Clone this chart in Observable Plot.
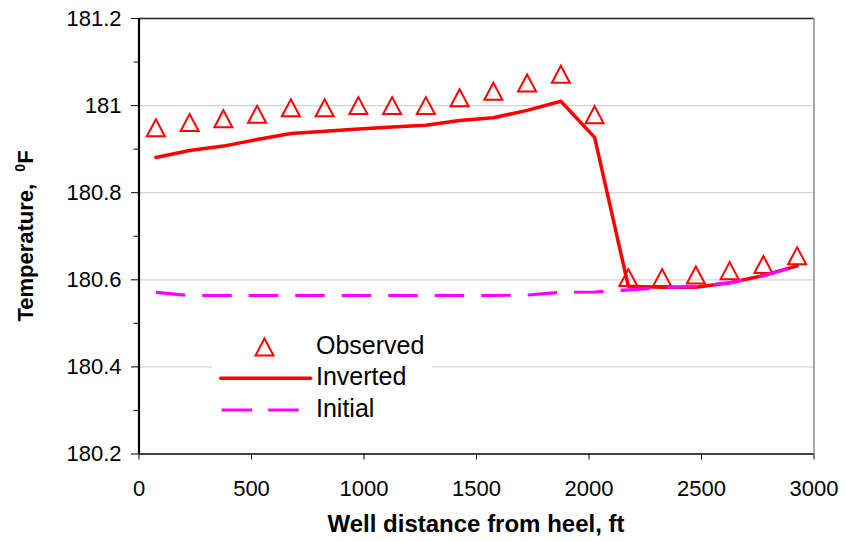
<!DOCTYPE html>
<html>
<head>
<meta charset="utf-8">
<script src="https://cdn.jsdelivr.net/npm/d3@7"></script>
<script src="https://cdn.jsdelivr.net/npm/@observablehq/plot@0.6"></script>
<style>
  html, body { margin: 0; padding: 0; background: white; }
  #chart { width: 845px; height: 541px; }
</style>
</head>
<body>
<div id="chart"></div>
<script>
// ---- data ----
const distance = [75, 225, 375, 525, 675, 825, 975, 1125, 1275, 1425, 1575, 1725, 1875, 2025, 2175, 2325, 2475, 2625, 2775, 2925];
const observed = [180.949, 180.961, 180.970, 180.980, 180.995, 180.995, 181.000, 181.000, 181.000, 181.018, 181.033, 181.052, 181.072, 180.979, 180.605, 180.605, 180.611, 180.621, 180.635, 180.655];
const inverted = [180.881, 180.897, 180.907, 180.922, 180.936, 180.941, 180.946, 180.951, 180.955, 180.966, 180.972, 180.989, 181.010, 180.927, 180.585, 180.583, 180.583, 180.593, 180.610, 180.632];
const initial  = [180.571, 180.564, 180.564, 180.564, 180.564, 180.564, 180.564, 180.564, 180.564, 180.564, 180.564, 180.565, 180.571, 180.572, 180.577, 180.582, 180.585, 180.593, 180.609, 180.632];
const xTicks = [0, 500, 1000, 1500, 2000, 2500, 3000];
const yTicks = [180.2, 180.4, 180.6, 180.8, 181, 181.2];
const yGrid = [180.4, 180.6, 180.8, 181];
const yMinorTicks = [180.3, 180.5, 180.7, 180.9, 181.1];
const xDomain = [0, 3000];
const yDomain = [180.2, 181.2];
const seriesNames = ["Observed", "Inverted", "Initial"];
const xTitle = "Well distance from heel, ft";
const yTitle = "Temperature,  ";

const obsData = distance.map((x, i) => ({x, y: observed[i]}));
const invData = distance.map((x, i) => ({x, y: inverted[i]}));
const iniData = distance.map((x, i) => ({x, y: initial[i]}));

// Excel-like triangle marker, centred on its bounding box
const triW = 18, triH = 17;
const triangleSymbol = {
  draw(ctx) {
    ctx.moveTo(0, -triH / 2);
    ctx.lineTo(triW / 2, triH / 2);
    ctx.lineTo(-triW / 2, triH / 2);
    ctx.closePath();
  }
};

const RED = "#ff0000", MAGENTA = "#ff00ff";

const plot = Plot.plot({
  width: 845,
  height: 541,
  marginLeft: 138.5,
  marginRight: 31.5,
  marginTop: 18,
  marginBottom: 87.5,
  x: {domain: xDomain},
  y: {domain: yDomain},
  style: {fontFamily: "'Liberation Sans', Arial, Helvetica, sans-serif", fontSize: "22px", background: "white", color: "black", overflow: "visible"},
  marks: [
    Plot.gridY(yGrid, {stroke: "#d4d4d4", strokeOpacity: 1, strokeWidth: 1.2}),
    Plot.ruleY([yDomain[1]], {stroke: "#222", strokeWidth: 1.3}),
    Plot.ruleX([xDomain[1]], {stroke: "#8a8a8a", strokeWidth: 1.5}),
    Plot.dot(obsData, {x: "x", y: "y", symbol: triangleSymbol, r: 6, stroke: RED, strokeWidth: 2, fill: "none"}),
    Plot.line(invData, {x: "x", y: "y", stroke: RED, strokeWidth: 3.5}),
    Plot.line(iniData, {x: "x", y: "y", stroke: MAGENTA, strokeWidth: 3.2, strokeDasharray: "29.5,17", strokeLinecap: "butt"}),
    Plot.axisY(yTicks, {tickSize: 7.5, tickPadding: 10, label: null, stroke: "black", tickFormat: d => String(+d.toFixed(1)), fontSize: 22}),
    Plot.axisY(yMinorTicks, {tickSize: 5, tickFormat: () => "", label: null, stroke: "black"}),
    Plot.axisX(xTicks, {tickSize: 6, tickPadding: 20, label: null, stroke: "black", tickFormat: d => String(d), fontSize: 22}),
    Plot.ruleY([yDomain[0]], {stroke: "black", strokeWidth: 1.6}),
    Plot.ruleX([xDomain[0]], {stroke: "black", strokeWidth: 2.2})
  ]
});

document.getElementById("chart").appendChild(plot);

// ---- titles and legend ----
const svg = d3.select(plot);
const font = "'Liberation Sans', Arial, Helvetica, sans-serif";

svg.append("text")
  .attr("x", 476).attr("y", 532)
  .attr("text-anchor", "middle")
  .attr("font-family", font).attr("font-weight", "bold").attr("font-size", 24)
  .attr("fill", "black")
  .text(xTitle);

const yt = svg.append("text")
  .attr("transform", "translate(33,236) rotate(-90)")
  .attr("text-anchor", "middle")
  .attr("font-family", font).attr("font-weight", "bold").attr("font-size", 22)
  .attr("fill", "black")
  .style("white-space", "pre");
yt.append("tspan").text(yTitle);
yt.append("tspan").attr("font-size", 14).attr("dy", -8).text("0");
yt.append("tspan").attr("dy", 8).text("F");

const lg = svg.append("g");
lg.append("rect").attr("x", 212).attr("y", 327).attr("width", 220).attr("height", 98).attr("fill", "white");
lg.append("path")
  .attr("d", `M${264.5},${347 - triH / 2}L${264.5 + triW / 2},${347 + triH / 2}L${264.5 - triW / 2},${347 + triH / 2}Z`)
  .attr("fill", "none").attr("stroke", RED).attr("stroke-width", 2);
lg.append("line").attr("x1", 220.7).attr("x2", 310.7).attr("y1", 378.3).attr("y2", 378.3)
  .attr("stroke", RED).attr("stroke-width", 3.5).attr("stroke-linecap", "round");
lg.append("line").attr("x1", 221.7).attr("x2", 299).attr("y1", 410).attr("y2", 410)
  .attr("stroke", MAGENTA).attr("stroke-width", 3.2).attr("stroke-dasharray", "30.5,16");
const baselines = [353.5, 385, 416.5];
seriesNames.forEach((name, i) => {
  lg.append("text").attr("x", 316).attr("y", baselines[i])
    .attr("text-anchor", "start")
    .attr("font-family", font).attr("font-size", 25).attr("fill", "black")
    .text(name);
});
</script>
</body>
</html>
